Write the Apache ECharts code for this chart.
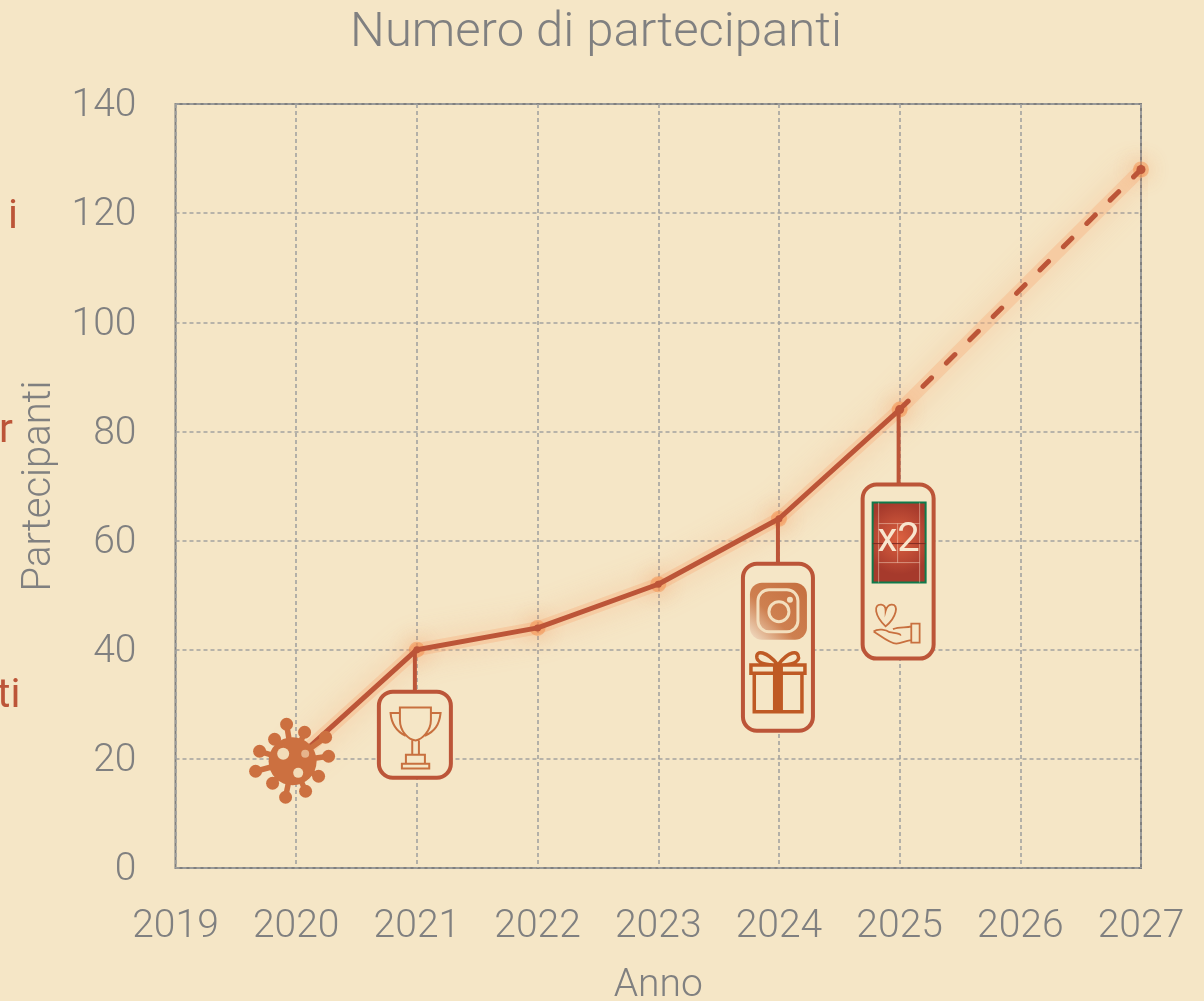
<!DOCTYPE html>
<html>
<head>
<meta charset="utf-8">
<title>Numero di partecipanti</title>
<script src="https://cdn.jsdelivr.net/npm/echarts@6/dist/echarts.min.js"></script>
<style>
    html, body { margin: 0; padding: 0; background: #F5E6C6; overflow: hidden; }
    #chart { width: 1204px; height: 1001px; }
</style>
</head>
<body>
<div id="chart"></div>
<script>
const years = [2020, 2021, 2022, 2023, 2024, 2025];
const participants = [20, 40, 44, 52, 64, 84];
const projectedYears = [2025, 2026, 2027];
const projected = [84, 106, 128];
const eventYears = [2020, 2021, 2024, 2025];
const eventValues = [20, 40, 64, 84];

const FONT = "Roboto, sans-serif";
const GREY = '#808080';
const RED = '#BC5538';
const ICON = '#C8703F';
const BG = '#F5E6C6';

// Tracciati delle icone (coordinate libere, vengono adattate al rettangolo)
const TROPHY = 'M480,263H573V300C573,335 545,360 527,362C505,360 480,335 480,300Z M480,280H452C455,315 470,335 497,348 M573,280H602C598,315 585,335 555,348 M517,362V405 M537,362V405 M498,405H555V432H498Z M486,432H568V446H486Z';
const BOW = 'M143,590C110,550 75,545 80,570C85,590 125,590 143,590C175,550 205,545 205,570C200,590 160,590 143,590Z';
const GIFT = BOW + ' M62,590H224V614H62Z M72,614H215V725H72Z';
const HAND = 'M468,470C435,440 430,405 455,407C465,408 468,418 468,425C470,418 475,408 485,407C510,405 500,445 468,470Z M432,485C450,495 480,520 500,520C515,518 535,510 545,510 M432,485C445,475 470,480 480,487C495,490 515,490 512,497 M545,462H570V517H545Z M545,470C530,475 510,470 490,478';
const SPIKES = [[-6, -37], [12, -29], [33, -24], [36, -5], [26, 15], [13, 30], [-7, 36], [-20, 22], [-37, 10], [-33, -10], [-18, -22]];

function path(d, x, y, width, height, style) {
    return { type: 'path', shape: { pathData: d, x, y, width, height, layout: 'cover' }, style };
}

function callout(stemX, stemEnd, x, y, w, h) {
    const border = { stroke: RED, lineWidth: 4 };
    return [
        { type: 'line', shape: { x1: stemX, y1: 0, x2: stemX, y2: stemEnd }, style: border },
        { type: 'rect', shape: { x, y, width: w, height: h, r: 14 }, style: { fill: BG, ...border } }
    ];
}

function virus() {
    const body = '#CC7040';
    const spikes = [];
    SPIKES.forEach(([dx, dy]) => {
        spikes.push({ type: 'line', shape: { x1: -3.6, y1: 2.4, x2: dx - 3.6, y2: dy + 2.4 }, style: { stroke: body, lineWidth: 5.5 } });
        spikes.push({ type: 'circle', shape: { cx: dx - 3.6, cy: dy + 2.4, r: 6.5 }, style: { fill: body } });
    });
    return [
        ...spikes,
        { type: 'circle', shape: { cx: -3.6, cy: 2.4, r: 24 }, style: { fill: body } },
        { type: 'circle', shape: { cx: -13, cy: -5, r: 6 }, style: { fill: '#F3DCB8' } },
        { type: 'circle', shape: { cx: 9, cy: -5, r: 4 }, style: { fill: '#E6B48C' } },
        { type: 'circle', shape: { cx: 2, cy: 14, r: 5 }, style: { fill: '#F3DCB8' } }
    ];
}

function trophy() {
    return [
        ...callout(-2, 42, -38, 42, 72, 86),
        path(TROPHY, -26.3, 57.7, 50, 61, { fill: 'none', stroke: ICON, lineWidth: 2 })
    ];
}

function socialGift() {
    const cream = { fill: 'none', stroke: '#F3DFBE', lineWidth: 3 };
    return [
        ...callout(-1, 45, -36, 45, 70, 167),
        {
            type: 'rect', shape: { x: -29, y: 64, width: 57, height: 57, r: 12 },
            style: {
                fill: new echarts.graphic.LinearGradient(1, 0, 0, 1, [
                    { offset: 0, color: '#C56E3E' },
                    { offset: 0.6, color: '#CE8050' },
                    { offset: 1, color: '#F3E2CA' }
                ])
            }
        },
        { type: 'rect', shape: { x: -21, y: 71, width: 40, height: 42, r: 11 }, style: cream },
        { type: 'circle', shape: { cx: 0, cy: 93, r: 10 }, style: cream },
        { type: 'circle', shape: { cx: 11, cy: 81, r: 3 }, style: { fill: '#F3DFBE' } },
        path(GIFT, -28, 134, 54, 59, { fill: 'none', stroke: '#BF5A24', lineWidth: 3.5 }),
        { type: 'rect', shape: { x: -6, y: 147, width: 10, height: 46 }, style: { fill: '#BF5A24' } }
    ];
}

function courtHand() {
    const white = { stroke: 'rgba(255,235,215,0.45)', lineWidth: 1 };
    return [
        ...callout(-1, 75, -37, 75, 71, 174),
        {
            type: 'rect', shape: { x: -27, y: 93, width: 53, height: 80 },
            style: {
                fill: new echarts.graphic.RadialGradient(0.5, 0.45, 0.65, [
                    { offset: 0, color: '#DC6140' },
                    { offset: 1, color: '#A63A2C' }
                ]),
                stroke: '#0E7A4B', lineWidth: 2
            }
        },
        { type: 'line', shape: { x1: -21, y1: 93, x2: -21, y2: 173 }, style: white },
        { type: 'line', shape: { x1: 20, y1: 93, x2: 20, y2: 173 }, style: white },
        { type: 'line', shape: { x1: -21, y1: 114, x2: 20, y2: 114 }, style: white },
        { type: 'line', shape: { x1: -21, y1: 153, x2: 20, y2: 153 }, style: white },
        { type: 'line', shape: { x1: -2, y1: 114, x2: -2, y2: 153 }, style: white },
        { type: 'line', shape: { x1: -27, y1: 134, x2: 26, y2: 134 }, style: { stroke: '#7D2A22', lineWidth: 1 } },
        {
            type: 'text', x: -1, y: 131,
            style: { text: 'x2', fill: '#F8E6CE', font: "400 40px " + FONT, align: 'center', verticalAlign: 'middle' }
        },
        path(HAND, -26, 195, 46, 39, { fill: 'none', stroke: ICON, lineWidth: 1.8 })
    ];
}

const eventIcons = [virus, trophy, socialGift, courtHand];

function renderEvent(params, api) {
    const pt = api.coord([api.value(0), api.value(1)]);
    return { type: 'group', x: pt[0], y: pt[1], children: eventIcons[params.dataIndex]() };
}

function clippedText(text, x, y) {
    return { type: 'text', x, y, style: { text, fill: RED, font: '400 41px ' + FONT, textVerticalAlign: 'middle' } };
}

const myChart = echarts.init(document.getElementById('chart'));

myChart.setOption({
    backgroundColor: BG,
    animation: false,
    textStyle: { fontFamily: FONT },
    title: {
        text: 'Numero di partecipanti',
        left: 591, top: 4, textAlign: 'center',
        textStyle: { color: GREY, fontSize: 49, fontWeight: 300, fontFamily: FONT }
    },
    grid: {
        left: 175.5, top: 104, width: 965.5, height: 764,
        outerBoundsMode: 'none',
        show: true, borderColor: GREY, borderWidth: 2, backgroundColor: 'transparent'
    },
    xAxis: {
        type: 'value', min: 2019, max: 2027, interval: 1,
        name: 'Anno', nameLocation: 'middle', nameGap: 99,
        nameTextStyle: { color: GREY, fontSize: 39, fontWeight: 300 },
        axisLine: { show: false }, axisTick: { show: false },
        axisLabel: { color: GREY, fontSize: 39, fontWeight: 300, margin: 40, formatter: v => String(v) },
        splitLine: { lineStyle: { color: '#A3A3A0', width: 1.6, type: [4, 3] } }
    },
    yAxis: {
        type: 'value', min: 0, max: 140, interval: 20,
        name: 'Partecipanti', nameLocation: 'middle', nameGap: 116,
        nameTextStyle: { color: GREY, fontSize: 40, fontWeight: 300 },
        axisLine: { show: false }, axisTick: { show: false },
        axisLabel: { color: GREY, fontSize: 39, fontWeight: 300, margin: 39, verticalAlign: 'top', padding: [-17, 0, 0, 0] },
        splitLine: { lineStyle: { color: '#A3A3A0', width: 1.6, type: [4, 3] } }
    },
    graphic: [
        clippedText('i', 8, 218),
        clippedText('r', -1, 432),
        clippedText('ti', -3, 697)
    ],
    series: [
        // alone arancione sotto tutta la curva
        {
            type: 'line',
            data: years.map((y, i) => [y, participants[i]])
                .concat(projectedYears.slice(1).map((y, i) => [y, projected[i + 1]])),
            symbol: 'circle',
            symbolSize: (v, p) => ((p.dataIndex === 0 || p.dataIndex === 6) ? 0 : 16),
            itemStyle: { color: 'rgba(243,130,60,0.42)', shadowBlur: 20, shadowColor: 'rgba(243,120,50,1)' },
            lineStyle: { color: 'rgba(247,175,125,0.38)', width: 13, shadowBlur: 28, shadowColor: 'rgba(247,160,105,1)' },
            z: 2
        },
        {
            type: 'line',
            data: projectedYears.map((y, i) => [y, projected[i]]),
            symbol: 'circle',
            symbolSize: (v, p) => (p.dataIndex === 1 ? 0 : 9),
            itemStyle: { color: RED },
            lineStyle: { color: RED, width: 5, type: [12, 21], cap: 'round' },
            z: 3
        },
        {
            type: 'line',
            data: years.map((y, i) => [y, participants[i]]),
            symbol: 'circle', symbolSize: 7, showSymbol: true,
            itemStyle: { color: RED },
            lineStyle: { color: RED, width: 5 },
            z: 4
        },
        {
            type: 'custom',
            data: eventYears.map((y, i) => [y, eventValues[i]]),
            renderItem: renderEvent,
            silent: true,
            clip: false,
            z: 5
        }
    ]
});

window.addEventListener('resize', function() {
    myChart.resize();
});
</script>
</body>
</html>
